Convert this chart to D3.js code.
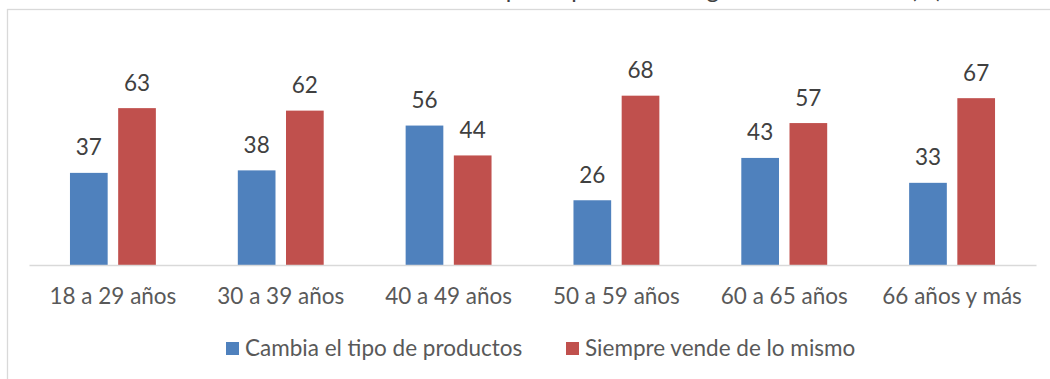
<!DOCTYPE html>
<html><head><meta charset="utf-8">
<script src="https://cdn.jsdelivr.net/npm/d3@7"></script>
<style>body{margin:0;background:#fff;overflow:hidden}svg{display:block}text{font-family:Lato,"Open Sans",sans-serif}</style>
</head><body>
<svg id="c" width="1050" height="379"></svg>
<script>
const categories = ["18 a 29 años","30 a 39 años","40 a 49 años","50 a 59 años","60 a 65 años","66 años y más"];
const seriesNames = ["Cambia el tipo de productos","Siempre vende de lo mismo"];
const cambia = [37,38,56,26,43,33];
const siempre = [63,62,44,68,57,67];
const colors = ["#4f81bd","#c0504d"];
const title = "Cambio en el tipo de productos según tramo de edad (%)";

const svg = d3.select("#c");
const FS = 22.5;
// outer border (chart area is cropped)
svg.append("rect").attr("x",7.5).attr("y",9.5).attr("width",1100).attr("height",420)
  .attr("fill","none").attr("stroke","#d9d9d9").attr("stroke-width",1.3);
// title (cropped at top)
svg.append("text").attr("x",645).attr("y",-2).attr("text-anchor","middle")
  .attr("font-size",24).attr("fill","#404040").text(title);

const x0 = d3.scaleBand().domain(categories).range([29,1036]).paddingInner(0).paddingOuter(0);
const x1 = d3.scaleBand().domain(seriesNames).range([0,x0.bandwidth()]).paddingInner(0.218).paddingOuter(0.85);
const y = d3.scaleLinear().domain([0,80]).range([265,65.8]);

const data = categories.map((c,i)=>({cat:c, vals:[cambia[i],siempre[i]]}));
const g = svg.selectAll("g.cat").data(data).join("g").attr("transform",d=>`translate(${x0(d.cat)},0)`);
g.selectAll("rect").data(d=>d.vals.map((v,j)=>({v,s:seriesNames[j],j}))).join("rect")
  .attr("x",d=>x1(d.s)).attr("width",x1.bandwidth())
  .attr("y",d=>y(d.v)).attr("height",d=>y(0)-y(d.v)).attr("fill",d=>colors[d.j]);
g.selectAll("text.val").data(d=>d.vals.map((v,j)=>({v,s:seriesNames[j],j}))).join("text")
  .attr("class","val").attr("x",d=>x1(d.s)+x1.bandwidth()/2).attr("y",d=>y(d.v)-17.5)
  .attr("text-anchor","middle").attr("font-size",FS).attr("fill","#404040").text(d=>d.v);

// axis
const ax = svg.append("g").attr("transform",`translate(0,${y(0)})`)
  .call(d3.axisBottom(x0).tickSize(0).tickPadding(0));
ax.select(".domain").attr("stroke","#d9d9d9").attr("stroke-width",1.5);
ax.selectAll("text").attr("y",39).attr("dy",0).attr("font-size",FS).attr("fill","#595959")
  .attr("font-family","Lato,'Open Sans',sans-serif");

// legend
const legX = [226,566];
const lg = svg.selectAll("g.leg").data(seriesNames).join("g").attr("transform",(d,i)=>`translate(${legX[i]},342)`);
lg.append("rect").attr("width",13).attr("height",13).attr("fill",(d,i)=>colors[i]);
lg.append("text").attr("x",19).attr("y",14).attr("font-size",FS).attr("fill","#595959").text(d=>d);
</script>
</body></html>
